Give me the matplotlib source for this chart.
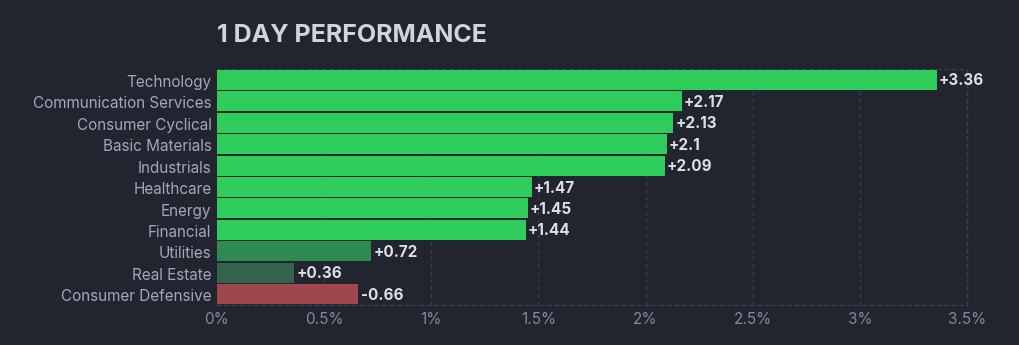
import matplotlib.pyplot as plt
import numpy as np

plt.rcParams["font.family"] = ["Inter", "DejaVu Sans"]

# sector performance, one day, in percent
sectors = [
    "Technology",
    "Communication Services",
    "Consumer Cyclical",
    "Basic Materials",
    "Industrials",
    "Healthcare",
    "Energy",
    "Financial",
    "Utilities",
    "Real Estate",
    "Consumer Defensive",
]
changes = [3.36, 2.17, 2.13, 2.10, 2.09, 1.47, 1.45, 1.44, 0.72, 0.36, -0.66]
value_labels = ["+3.36", "+2.17", "+2.13", "+2.1", "+2.09", "+1.47",
                "+1.45", "+1.44", "+0.72", "+0.36", "-0.66"]
x_ticks = [0, 0.5, 1, 1.5, 2, 2.5, 3, 3.5]
x_tick_labels = ["0%", "0.5%", "1%", "1.5%", "2%", "2.5%", "3%", "3.5%"]

BG = "#22252f"
GRID = "#3b3f4d"
bar_colors = ["#2ecc5b"] * 8 + ["#2e8a4e", "#35624d", "#a0464d"]

fig = plt.figure(figsize=(10.2, 3.45), dpi=100, facecolor=BG)
ax = fig.add_axes([0.2127, 0.116, 0.7353, 0.684], facecolor=BG)

y = np.arange(len(sectors))
ax.barh(y, np.abs(changes), height=0.93, color=bar_colors, zorder=3)

for yi, v, lab in zip(y, changes, value_labels):
    ax.text(abs(v) + 0.01, yi + 0.05, lab, va="center", ha="left",
            fontsize=11, fontweight="bold", color="#dedfe6", zorder=4)

ax.set_xlim(0, 3.5)
ax.set_ylim(len(sectors) - 0.5, -0.5)
ax.set_yticks(y + 0.05)
ax.set_yticklabels(sectors, fontsize=11, color="#a3a6ba")
ax.set_xticks(x_ticks)
ax.set_xticklabels(x_tick_labels, fontsize=11, color="#84889c")
ax.tick_params(axis="both", length=0, pad=4)
ax.tick_params(axis="x", pad=5)

ax.grid(axis="x", color=GRID, linestyle=(0, (3, 3)), linewidth=0.9, zorder=0)
for side in ["top", "bottom", "right"]:
    ax.spines[side].set_color(GRID)
    ax.spines[side].set_linestyle((0, (3, 3)))
    ax.spines[side].set_linewidth(0.9)
ax.spines["left"].set_visible(False)

fig.text(0.2127, 0.898, "1 DAY PERFORMANCE", fontsize=18, fontweight="bold",
         color="#d1d3de", ha="left", va="center")

fig.savefig("out.png", dpi=100, facecolor=BG)
